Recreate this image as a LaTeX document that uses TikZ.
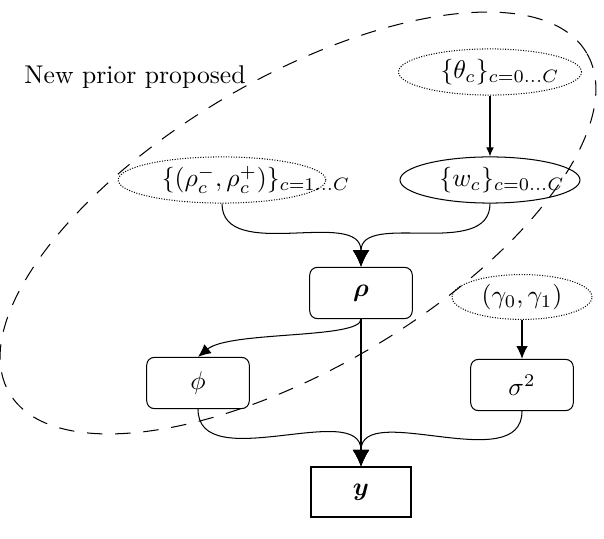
\documentclass[tikz,border=0pt]{standalone}
\usepackage{bm}
\usetikzlibrary{shapes.geometric,arrows.meta}
\begin{document}
\begin{tikzpicture}[x=0.39pt,y=0.39pt,
  every path/.style={line width=0.4pt},
  dotell/.style={ellipse,draw,dash pattern=on 0.4pt off 0.6pt,inner sep=0pt},
  solell/.style={ellipse,draw,inner sep=0pt},
  rbox/.style={draw,rounded corners=3pt,inner sep=0pt,minimum width=40pt,minimum height=20pt},
  sbox/.style={draw,inner sep=0pt,minimum width=39pt,minimum height=19.5pt},
  lbl/.style={inner sep=0pt},
  bigtip/.style={-{Latex[length=6.5pt,width=6.5pt]}},
  midtip/.style={-{Latex[length=5pt,width=4.5pt]}},
  smalltip/.style={-{Latex[length=3.5pt,width=3pt]}}]
\useasboundingbox (0,0) rectangle (604,-539);

% dashed region
\node[ellipse,draw,dash pattern=on 6pt off 5pt,minimum width=261.3pt,minimum height=113pt,rotate=30.5,inner sep=0pt] (prior) at (298,-223) {};
\node[lbl] (newprior) at (135,-77) {New prior proposed};

% ellipses
\node[dotell,minimum width=71.4pt,minimum height=18pt] (theta) at (490,-72) {};
\node[lbl] (thetatxt) at (500,-72) {$\{\theta_c\}_{c=0\ldots C}$};
\node[solell,minimum width=70.2pt,minimum height=18pt] (w) at (490,-180) {};
\node[lbl] (wtxt) at (502,-180) {$\{w_c\}_{c=0\ldots C}$};
\node[dotell,minimum width=81pt,minimum height=18pt] (rp) at (222,-180) {};
\node[lbl] (rptxt) at (256,-180) {$\{(\rho_c^-,\rho_c^+)\}_{c=1\ldots C}$};
\node[dotell,minimum width=54.6pt,minimum height=17.5pt] (gamma) at (522,-297) {$(\gamma_0,\gamma_1)$};

% boxes
\node[rbox] (rho) at (361,-293) {$\bm{\rho}$};
\node[rbox] (phi) at (198,-383) {$\phi$};
\node[rbox] (sigma) at (522,-385) {$\sigma^2$};
\node[sbox] (y) at (361,-492) {$\bm{y}$};

% connectors
\draw[smalltip] (theta) -- (w);
\draw[midtip] (gamma) -- (sigma);
\draw[bigtip] (rp.south) to[out=-90,in=90] (rho.north);
\draw[bigtip] (w.south) to[out=-90,in=90] (rho.north);
\draw[midtip] (rho.south) .. controls +(0,-20) and +(32,26) .. (phi.north);
\draw[bigtip] (rho.south) -- (y.north);
\draw[bigtip] (phi.south) to[out=-90,in=90] (y.north);
\draw[bigtip] (sigma.south) to[out=-90,in=90] (y.north);
\end{tikzpicture}
\end{document}
